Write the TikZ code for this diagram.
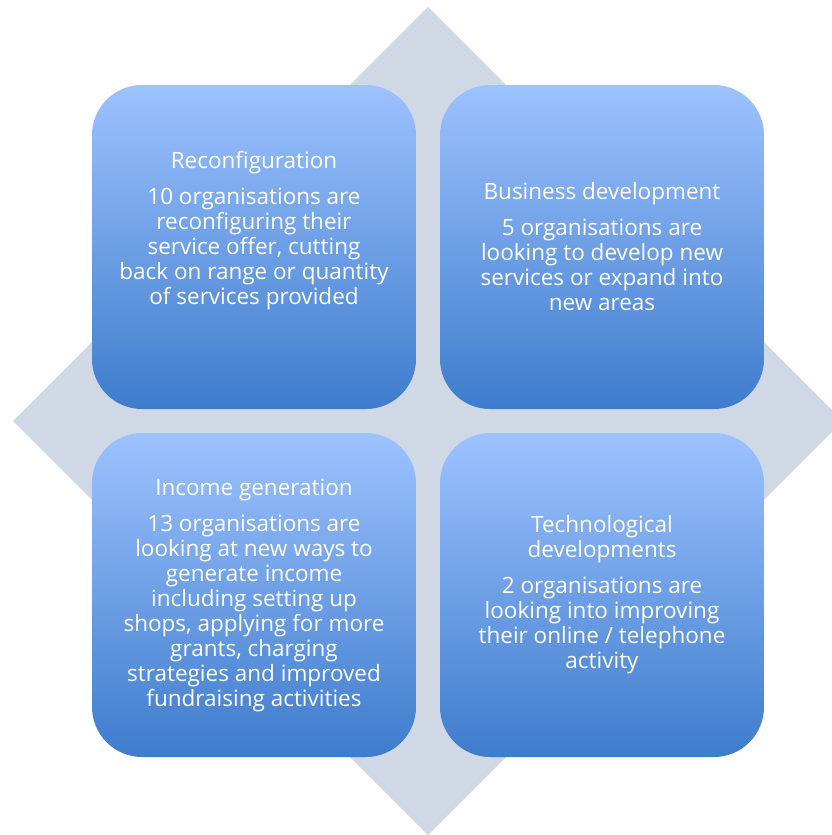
\documentclass[tikz,border=0pt]{standalone}
\usepackage{fontspec}
\setmainfont{Open Sans}
\definecolor{diam}{RGB}{208,216,230}
\definecolor{boxtop}{RGB}{157,194,255}
\definecolor{boxbot}{RGB}{62,124,204}
\tikzset{
  quad/.style={rounded corners=50pt, minimum width=324pt, minimum height=324pt,
    inner sep=0pt, top color=boxtop, bottom color=boxbot, draw=none},
  lbl/.style={text=white, align=center, font=\fontsize{22.5}{25}\selectfont, inner sep=0pt}
}
\begin{document}
\begin{tikzpicture}[x=1pt,y=-1pt]
\useasboundingbox (0,0) rectangle (832,835);
\clip (0,0) rectangle (832,835);
\fill[diam] (428,7) -- (843,421) -- (428,835) -- (13,421) -- cycle;
\node[quad] (tl) at (254,247) {};
\node[quad] (tr) at (602,247) {};
\node[quad] (bl) at (254,595) {};
\node[quad] (br) at (602,595) {};
\node[lbl] (tlt) at (254,231) {Reconfiguration\\[11pt]10 organisations are\\reconfiguring their\\service offer, cutting\\back on range or quantity\\of services provided};
\node[lbl] (trt) at (602,247) {Business development\\[11pt]5 organisations are\\looking to develop new\\services or expand into\\new areas};
\node[lbl] (blt) at (254,595) {Income generation\\[11pt]13 organisations are\\looking at new ways to\\generate income\\including setting up\\shops, applying for more\\grants, charging\\strategies and improved\\fundraising activities};
\node[lbl] (brt) at (602,595) {Technological\\developments\\[11pt]2 organisations are\\looking into improving\\their online / telephone\\activity};
\end{tikzpicture}
\end{document}
